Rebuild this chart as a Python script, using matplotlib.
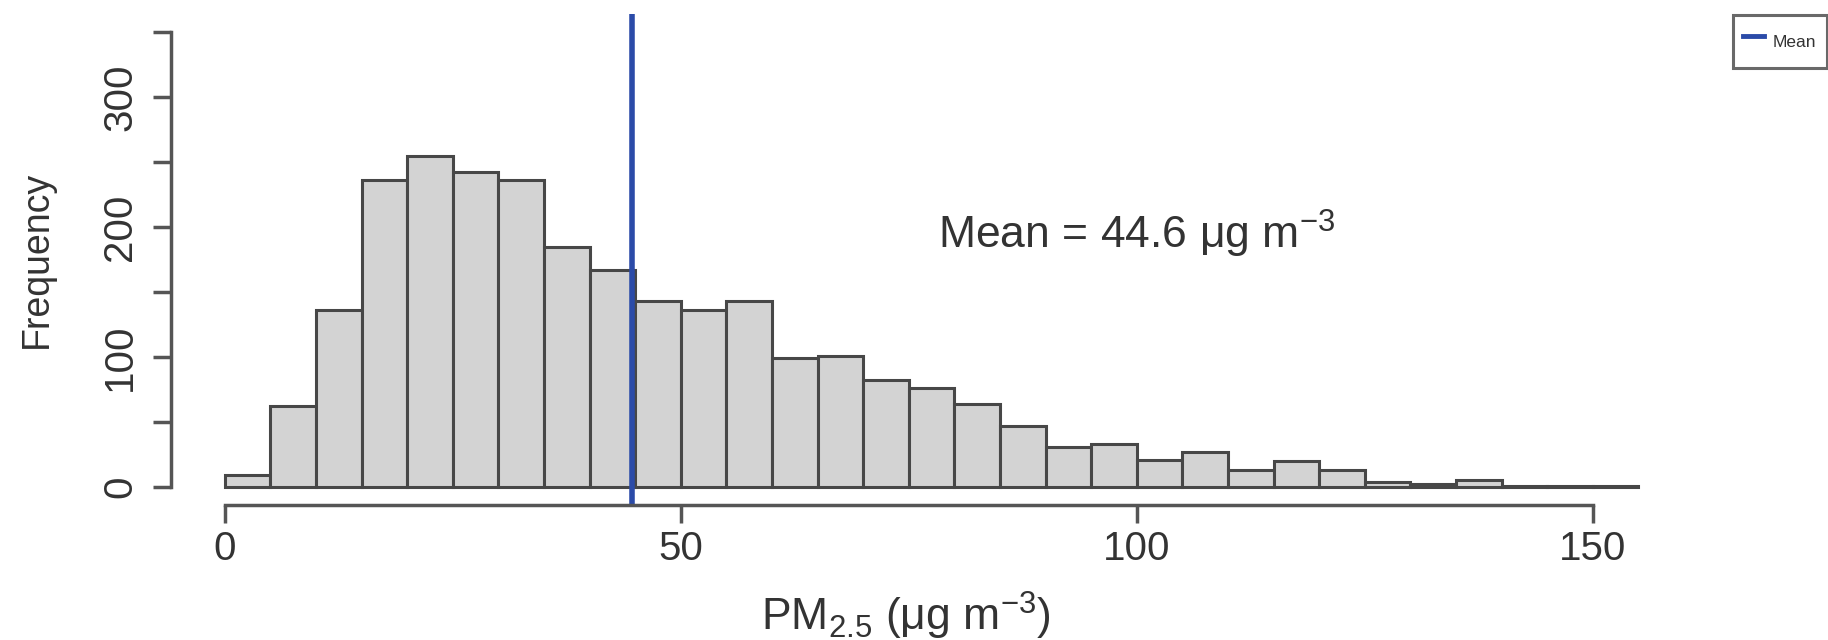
import matplotlib
matplotlib.use("Agg")
import matplotlib.pyplot as plt
from matplotlib.lines import Line2D

# histogram of PM2.5, bins of 5 ug/m3
bin_left = [0, 5, 10, 15, 20, 25, 30, 35, 40, 45, 50, 55, 60, 65, 70, 75,
            80, 85, 90, 95, 100, 105, 110, 115, 120, 125, 130, 135, 140, 145, 150]
counts = [9, 62, 136, 236, 255, 242, 236, 185, 167, 143, 136, 143, 99, 101, 82, 76,
          64, 47, 31, 33, 21, 27, 13, 20, 13, 4, 2, 5, 1, 1, 1]
bin_width = 5
mean_val = 44.6

x_ticks = [0, 50, 100, 150]
y_ticks = [0, 50, 100, 150, 200, 250, 300, 350]
y_ticklabels = ['0', '', '100', '', '200', '', '300', '']

plt.rcParams['font.family'] = ['Liberation Sans', 'DejaVu Sans']
plt.rcParams['mathtext.fontset'] = 'custom'
plt.rcParams['mathtext.rm'] = 'Liberation Sans'
plt.rcParams['mathtext.it'] = 'Liberation Sans:italic'

txt = '#333333'
axcol = '#555555'

W, H = 1828, 640
left_px, right_px = 171, 1695
bottom_px, top_px = 505, 14

fig = plt.figure(figsize=(W / 100, H / 100), dpi=100)
ax = fig.add_axes([left_px / W, 1 - bottom_px / H,
                   (right_px - left_px) / W, (bottom_px - top_px) / H])

ax.bar(bin_left, counts, width=bin_width, align='edge',
       color='#d3d3d3', edgecolor='#474747', linewidth=2.2)
ax.axvline(mean_val, color='#2b4ba8', lw=4)

ax.set_xlim(-5.9, 161.2)
ax.set_ylim(-14, 364)

for s in ['top', 'right']:
    ax.spines[s].set_visible(False)
ax.spines['bottom'].set_bounds(0, 150)
ax.spines['left'].set_bounds(0, 350)
for s in ['bottom', 'left']:
    ax.spines[s].set_color(axcol)
    ax.spines[s].set_linewidth(2.5)

ax.set_xticks(x_ticks)
ax.set_yticks(y_ticks)
ax.set_yticklabels(y_ticklabels, rotation=90, va='center')
ax.tick_params(axis='both', length=13, width=2.5, color=axcol,
               labelsize=29, labelcolor=txt)
ax.tick_params(axis='x', pad=5)
ax.tick_params(axis='y', pad=10)

ax.set_xlabel(r'PM$_{2.5}$ (μg m$^{-3}$)', fontsize=32, color=txt, va='center')
ax.xaxis.set_label_coords(0.482, -0.225)
ax.set_ylabel('Frequency', fontsize=27, color=txt, va='center')
ax.yaxis.set_label_coords(-0.088, 0.5)

ax.text(100, 195, r'Mean = 44.6 μg m$^{-3}$', fontsize=32, color=txt,
        ha='center', va='center')

# legend sits in the top right corner, partly cut by the figure edge
handle = Line2D([], [], color='#2b4ba8', lw=3.5)
leg = fig.legend([handle], ['Mean'], loc='upper left',
                 bbox_to_anchor=(1733 / W, 1 - 15 / H),
                 fontsize=12.5, frameon=True, fancybox=False,
                 handlelength=1.2, handleheight=2.5, handletextpad=0.5,
                 borderpad=0.6, borderaxespad=0)
leg.get_frame().set_edgecolor('#444444')
leg.get_frame().set_linewidth(2.2)
for t in leg.get_texts():
    t.set_color(txt)

fig.savefig('out.png', dpi=100)
